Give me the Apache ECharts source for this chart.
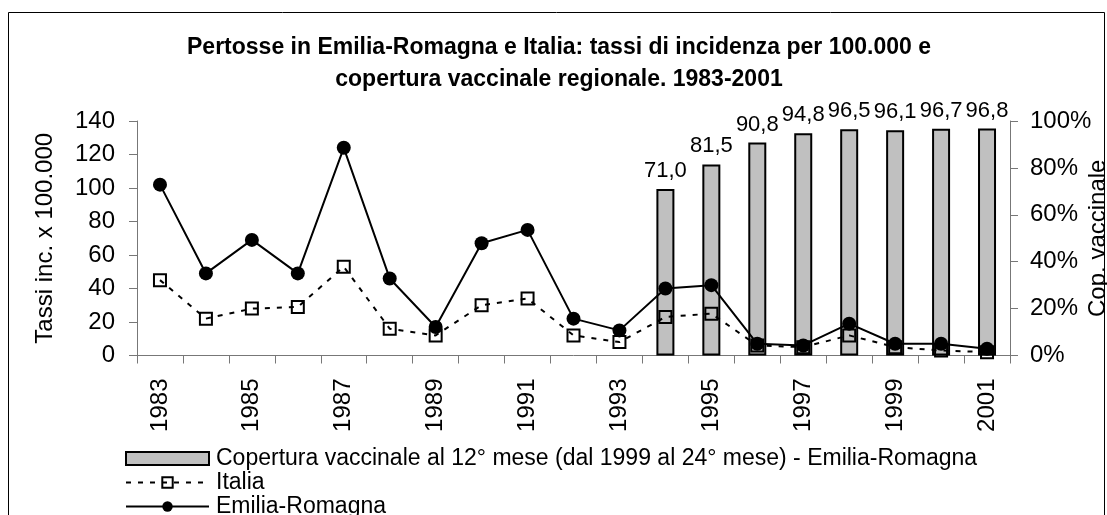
<!DOCTYPE html>
<html>
<head>
<meta charset="utf-8">
<script src="https://cdn.jsdelivr.net/npm/echarts@6/dist/echarts.min.js"></script>
<style>
  html, body { margin: 0; padding: 0; background: #fff; }
  #chart { width: 1107px; height: 515px; }
</style>
</head>
<body>
<div id="chart"></div>
<script>
// anni 1983-2001
const years = ["1983", "1984", "1985", "1986", "1987", "1988", "1989", "1990", "1991", "1992",
  "1993", "1994", "1995", "1996", "1997", "1998", "1999", "2000", "2001"];
// tassi di incidenza x 100.000
const rateItalia = [45, 22, 28, 29, 53, 16, 12, 30, 34, 12, 8, 23, 25, 6, 5, 12, 5, 3, 2];
const rateEmiliaRomagna = [102, 49, 69, 49, 124, 46, 17, 67, 75, 22, 15, 40, 42, 7, 6, 19, 7, 7, 4];
// copertura vaccinale (%) - solo dal 1994
const coverage = [null, null, null, null, null, null, null, null, null, null, null,
  71.0, 81.5, 90.8, 94.8, 96.5, 96.1, 96.7, 96.8];

const FONT = "'Liberation Sans', Arial, sans-serif";
const axisGray = "#777";
const coverageName = "Copertura vaccinale al 12° mese (dal 1999 al 24° mese) - Emilia-Romagna";

const chart = echarts.init(document.getElementById("chart"));

const option = {
  animation: false,
  backgroundColor: "#fff",
  textStyle: { fontFamily: FONT, color: "#000" },
  title: {
    text: "Pertosse in Emilia-Romagna e Italia: tassi di incidenza per 100.000 e\ncopertura vaccinale regionale. 1983-2001",
    left: 554,
    textAlign: "center",
    top: 27,
    textStyle: { fontFamily: FONT, fontSize: 23, fontWeight: "bold", lineHeight: 32, color: "#000" }
  },
  // cornice del grafico
  graphic: [{
    type: "rect",
    shape: { x: 8.5, y: 12.5, width: 1096, height: 520 },
    style: { fill: "none", stroke: "#000", lineWidth: 1 },
    silent: true
  }],
  legend: {
    orient: "vertical",
    left: 125,
    top: 447,
    height: 90,
    itemWidth: 83,
    itemHeight: 13,
    itemGap: 1,
    padding: 0,
    textStyle: { fontFamily: FONT, fontSize: 23, lineHeight: 23, color: "#000", padding: [0, 0, 0, 2] },
    data: [
      { name: coverageName, icon: "rect" },
      "Italia",
      "Emilia-Romagna"
    ]
  },
  grid: { left: 137, right: 97, top: 121, bottom: 159.5, containLabel: false, outerBoundsMode: "none" },
  xAxis: {
    type: "category",
    data: years,
    boundaryGap: true,
    axisLine: { show: true, lineStyle: { color: axisGray, width: 1 } },
    axisTick: { show: true, interval: 0, length: 8, lineStyle: { color: axisGray } },
    axisLabel: { interval: 1, rotate: 90, fontSize: 24, margin: 23, color: "#000", fontFamily: FONT },
    splitLine: { show: false }
  },
  yAxis: [
    {
      type: "value",
      min: 0,
      max: 140,
      interval: 20,
      name: "Tassi inc. x 100.000",
      nameLocation: "middle",
      nameGap: 80,
      nameTextStyle: { fontSize: 24, color: "#000", fontFamily: FONT },
      axisLine: { show: true, lineStyle: { color: axisGray, width: 1 } },
      axisTick: { show: true, length: 8, lineStyle: { color: axisGray } },
      axisLabel: { fontSize: 24, margin: 22, color: "#000", fontFamily: FONT },
      splitLine: { show: false }
    },
    {
      type: "value",
      min: 0,
      max: 100,
      interval: 20,
      position: "right",
      name: "Cop. vaccinale",
      nameLocation: "middle",
      nameGap: 76,
      nameMoveOverlap: false,
      nameTextStyle: { fontSize: 24, color: "#000", fontFamily: FONT },
      axisLine: { show: true, lineStyle: { color: axisGray, width: 1 } },
      axisTick: { show: true, length: 8, lineStyle: { color: axisGray } },
      axisLabel: { fontSize: 24, margin: 20, color: "#000", fontFamily: FONT, formatter: "{value}%" },
      splitLine: { show: false }
    }
  ],
  series: [
    {
      name: coverageName,
      type: "bar",
      yAxisIndex: 1,
      data: coverage,
      barWidth: 18,
      itemStyle: { color: "#c0c0c0", borderColor: "#000", borderWidth: 2 },
      label: {
        show: true,
        position: "top",
        distance: 7,
        fontSize: 22,
        color: "#000",
        fontFamily: FONT,
        formatter: function (p) {
          return p.value == null ? "" : p.value.toFixed(1).replace(".", ",");
        }
      }
    },
    {
      name: "Italia",
      type: "line",
      yAxisIndex: 0,
      data: rateItalia,
      symbol: "rect",
      symbolSize: 12,
      showAllSymbol: true,
      lineStyle: { color: "#000", width: 2, type: [5, 7] },
      itemStyle: { color: "rgba(0,0,0,0)", borderColor: "#000", borderWidth: 2 }
    },
    {
      name: "Emilia-Romagna",
      type: "line",
      yAxisIndex: 0,
      data: rateEmiliaRomagna,
      symbol: "circle",
      symbolSize: 14,
      showAllSymbol: true,
      lineStyle: { color: "#000", width: 2 },
      itemStyle: { color: "#000" }
    }
  ]
};

chart.setOption(option);
</script>
</body>
</html>
